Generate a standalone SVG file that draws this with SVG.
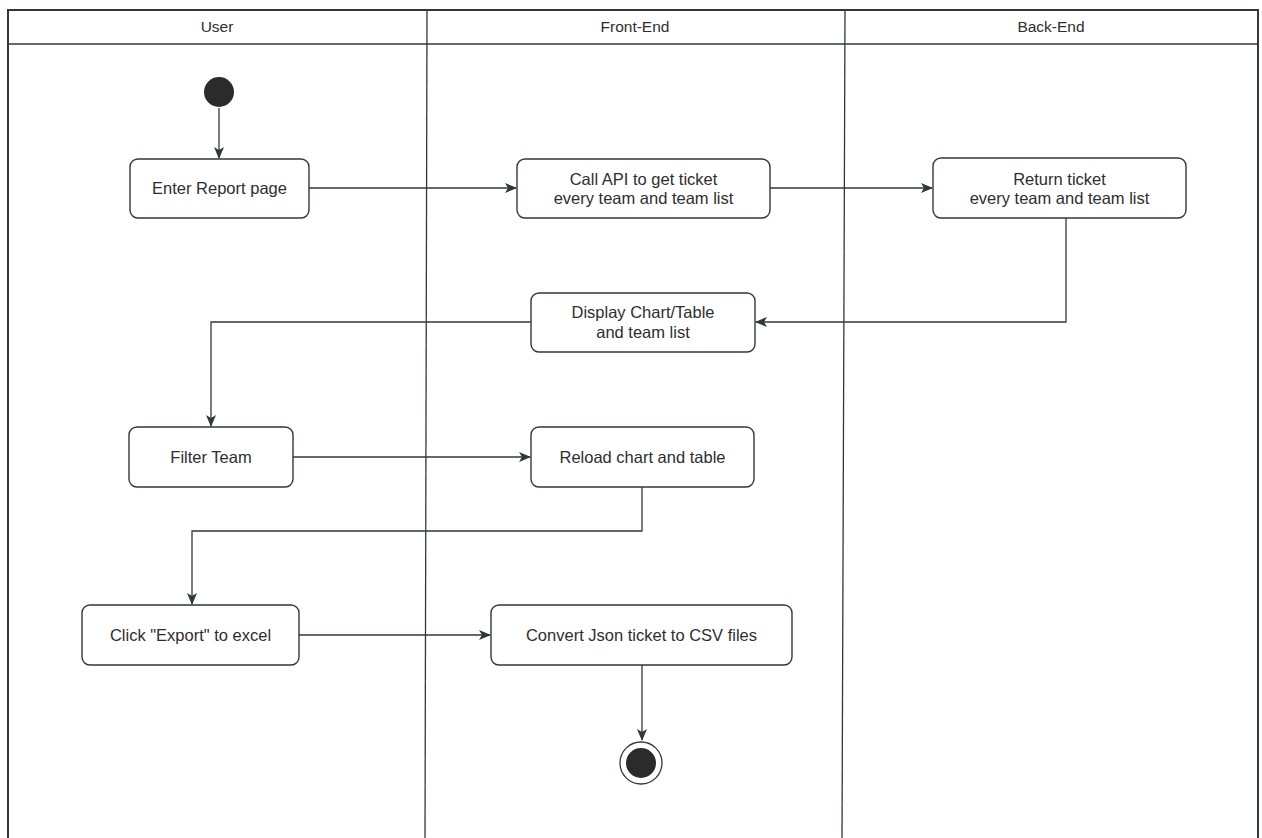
<svg xmlns="http://www.w3.org/2000/svg" width="1262" height="838" viewBox="0 0 1262 838">
  <defs>
    <style>
      .lane { stroke: #2f3a36; stroke-width: 1.3; fill: none; }
      .frame { stroke: #2f3a36; stroke-width: 2; fill: none; }
      .act { fill: #ffffff; stroke: #2f3a36; stroke-width: 1.4; }
      .lbl { font-family: "Liberation Sans", Arial, sans-serif; font-size: 16.5px; fill: #2e2e2e; text-anchor: middle; }
      .hdr { font-family: "Liberation Sans", Arial, sans-serif; font-size: 15.5px; fill: #2e2e2e; text-anchor: middle; }
      .edge { stroke: #2f3a36; stroke-width: 1.3; fill: none; marker-end: url(#arrow); }
      .dot { fill: #2b2b2b; }
    </style>
    <marker id="arrow" viewBox="0 0 12 10" refX="11" refY="5" markerWidth="12" markerHeight="10" markerUnits="userSpaceOnUse" orient="auto">
      <path d="M0,0 L12,5 L0,10 L3,5 Z" fill="#2f3a36"/>
    </marker>
  </defs>

  <rect x="0" y="0" width="1262" height="838" fill="#ffffff"/>

  <!-- swimlane frame -->
  <g id="lanes">
    <path class="frame" d="M8,840 L8,10 L1258,10 L1258,840"/>
    <line class="lane" x1="8" y1="44" x2="1258" y2="44"/>
    <line class="lane" x1="427" y1="10" x2="425" y2="840"/>
    <line class="lane" x1="845" y1="10" x2="842" y2="840"/>
    <text class="hdr" x="217" y="32">User</text>
    <text class="hdr" x="635" y="32">Front-End</text>
    <text class="hdr" x="1051" y="32">Back-End</text>
  </g>

  <!-- connectors -->
  <g id="connectors">
    <path class="edge" d="M219,108 L219,158"/>
    <path class="edge" d="M309,188 L516,188"/>
    <path class="edge" d="M770,188 L932,188"/>
    <path class="edge" d="M1066,218 L1066,322 L756,322"/>
    <path class="edge" d="M531,322 L211,322 L211,426"/>
    <path class="edge" d="M293,457 L530,457"/>
    <path class="edge" d="M642,487 L642,531 L192,531 L192,604"/>
    <path class="edge" d="M299,635 L490,635"/>
    <path class="edge" d="M642,665 L642,740"/>
  </g>

  <!-- start node -->
  <g id="start">
    <circle class="dot" cx="219" cy="92" r="15"/>
  </g>

  <g id="enter-report">
    <rect class="act" x="130" y="159" width="179" height="59" rx="8"/>
    <text class="lbl" x="219.5" y="194">Enter Report page</text>
  </g>

  <g id="call-api">
    <rect class="act" x="517" y="159" width="253" height="59" rx="8"/>
    <text class="lbl" x="643.5" y="185">Call API to get ticket</text>
    <text class="lbl" x="643.5" y="204">every team and team list</text>
  </g>

  <g id="return-ticket">
    <rect class="act" x="933" y="158" width="253" height="60" rx="8"/>
    <text class="lbl" x="1059.5" y="185">Return ticket</text>
    <text class="lbl" x="1059.5" y="204">every team and team list</text>
  </g>

  <g id="display-chart">
    <rect class="act" x="531" y="293" width="224" height="59" rx="8"/>
    <text class="lbl" x="643" y="318">Display Chart/Table</text>
    <text class="lbl" x="643" y="338">and team list</text>
  </g>

  <g id="filter-team">
    <rect class="act" x="129" y="427" width="164" height="60" rx="8"/>
    <text class="lbl" x="211" y="463">Filter Team</text>
  </g>

  <g id="reload-chart">
    <rect class="act" x="531" y="427" width="223" height="60" rx="8"/>
    <text class="lbl" x="642.5" y="463">Reload chart and table</text>
  </g>

  <g id="click-export">
    <rect class="act" x="82" y="605" width="217" height="60" rx="8"/>
    <text class="lbl" x="190.5" y="641">Click "Export" to excel</text>
  </g>

  <g id="convert-csv">
    <rect class="act" x="491" y="605" width="301" height="60" rx="8"/>
    <text class="lbl" x="641.5" y="641">Convert Json ticket to CSV files</text>
  </g>

  <!-- end node -->
  <g id="end">
    <circle cx="641" cy="763" r="21" fill="#ffffff" stroke="#2f3a36" stroke-width="1.3"/>
    <circle class="dot" cx="641" cy="763" r="15"/>
  </g>
</svg>
